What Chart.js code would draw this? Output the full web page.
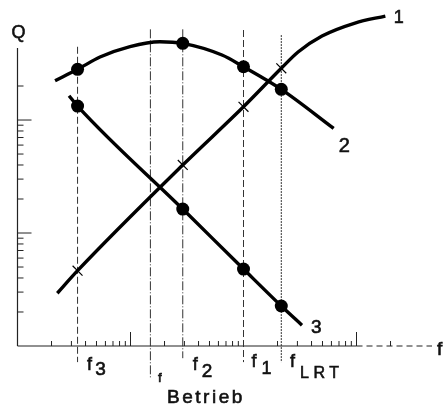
<!DOCTYPE html>
<html><head><meta charset="utf-8">
<script src="https://cdn.jsdelivr.net/npm/chart.js@4.4.1/dist/chart.umd.min.js"></script>
<style>html,body{margin:0;padding:0;background:#fff;} #wrap{width:447px;height:405px;position:relative;}</style>
</head><body><div id="wrap"><canvas id="c"></canvas></div>
<script>
// vertical reference frequencies
const fMain = ['f', 'f', 'f', 'f', 'f'];
const fSub = ['3', 'Betrieb', '2', '1', 'LRT'];
const fValues = [3.4, 15, 29, 100, 216];
const fTop = [445, 635, 635, 626, 565];
const fBottom = [0.72, 0.52, 0.78, 0.72, 0.72];

// curves (f, Q)
const curve1F = [2.25, 3.4, 29, 100, 216, 304, 495, 970, 1800];
const curve1Q = [2.93, 4.64, 40, 131, 287, 400, 554, 722, 832];
const curve2F = [2.15, 3.4, 5.37, 9.9, 18.2, 29, 64.5, 100, 216, 628];
const curve2Q = [223, 281, 361, 447, 493, 477, 376, 296, 187, 84.4];
const curve3F = [2.86, 3.4, 29, 100, 216, 329];
const curve3Q = [164, 133, 16.3, 4.8, 2.26, 1.53];

// markers at the reference frequencies
const markerF = [3.4, 29, 100, 216];
const marks1Q = [4.64, 40, 131, 287];
const marks2Q = [281, 477, 296, 187];
const marks3Q = [133, 16.3, 4.8, 2.26];

const curveLabels = ['1', '2', '3'];
const axisLabelX = 'f';
const axisLabelY = 'Q';

// log-paper tick marks
const xTicks = [2,3,4,5,6,7,8,9,10,20,30,40,50,60,70,80,90,100,200,300,400,500,600,700,800,900,1000,2000];
const xLongTicks = [10, 1000];
const yTicks = [2,3,4,5,6,7,8,9,10,20,30,40,50,60,70,80,90,100,200];
const yLongTicks = [10, 100];
const xMin = 1, xMax = 4657, yMin = 1, yMax = 434;

const pts = (xs, ys) => xs.map((x, i) => ({x: x, y: ys[i]}));
const FONT = '"Liberation Sans", Arial, sans-serif';

const dashes = [[7,3],[9,2,1,2],[9,2,1,2],[7,3],[2,1]];
const datasets = [];
[[curve1F, curve1Q], [curve2F, curve2Q], [curve3F, curve3Q]].forEach(c => {
  datasets.push({data: pts(c[0], c[1]), borderColor: '#000', borderWidth: 3.4, pointRadius: 0,
    cubicInterpolationMode: 'monotone', clip: false, order: 1, borderCapStyle: 'butt'});
});
datasets.push({data: pts(markerF, marks2Q), showLine: false, pointStyle: 'circle', pointRadius: 6.5,
  pointBackgroundColor: '#000', pointBorderWidth: 0, clip: false, order: 0});
datasets.push({data: pts(markerF, marks3Q), showLine: false, pointStyle: 'circle', pointRadius: 6.5,
  pointBackgroundColor: '#000', pointBorderWidth: 0, clip: false, order: 0});
datasets.push({data: pts(markerF, marks1Q), showLine: false, pointStyle: 'crossRot', pointRadius: 7,
  pointBorderColor: '#000', pointBorderWidth: 1.2, clip: false, order: 0});
fValues.forEach((f, i) => {
  datasets.push({data: [{x: f, y: fTop[i]}, {x: f, y: fBottom[i]}], borderColor: '#333', borderWidth: 1,
    borderDash: dashes[i], pointRadius: 0, clip: false, order: 5});
});

function heavyText(ctx, t, x, y) {
  ctx.fillText(t, x, y);
  ctx.strokeText(t, x, y);
}

const paperPlugin = {
  id: 'paper',
  beforeDatasetsDraw(chart) {
    const ctx = chart.ctx, xs = chart.scales.x, ys = chart.scales.y;
    const L = xs.getPixelForValue(xMin), B = ys.getPixelForValue(yMin);
    const T = ys.getPixelForValue(yMax), R = xs.getPixelForValue(xMax);
    ctx.save();
    ctx.strokeStyle = '#222';
    ctx.lineWidth = 1.2;
    ctx.beginPath(); ctx.moveTo(L, T); ctx.lineTo(L, B); ctx.stroke();
    const xSolidEnd = xs.getPixelForValue(1000);
    ctx.beginPath(); ctx.moveTo(L, B); ctx.lineTo(xSolidEnd, B); ctx.stroke();
    ctx.setLineDash([6, 4]);
    ctx.beginPath(); ctx.moveTo(xSolidEnd, B); ctx.lineTo(R, B); ctx.stroke();
    ctx.setLineDash([]);
    ctx.lineWidth = 1;
    xTicks.forEach(v => {
      const p = xs.getPixelForValue(v);
      const len = xLongTicks.includes(v) ? 14 : 5;
      ctx.beginPath(); ctx.moveTo(p, B); ctx.lineTo(p, B - len); ctx.stroke();
    });
    yTicks.forEach(v => {
      const p = ys.getPixelForValue(v);
      const len = yLongTicks.includes(v) ? 14 : 6;
      ctx.beginPath(); ctx.moveTo(L, p); ctx.lineTo(L + len, p); ctx.stroke();
    });
    ctx.restore();
  },
  afterDatasetsDraw(chart) {
    const ctx = chart.ctx, xs = chart.scales.x, ys = chart.scales.y;
    const L = xs.getPixelForValue(xMin), B = ys.getPixelForValue(yMin), R = xs.getPixelForValue(xMax);
    ctx.save();
    ctx.fillStyle = '#111';
    ctx.strokeStyle = '#111';
    ctx.lineWidth = 0.6;
    ctx.textBaseline = 'alphabetic';
    ctx.textAlign = 'left';
    ctx.font = '18px ' + FONT;
    heavyText(ctx, axisLabelY, L - 6, 38);
    ctx.font = '19px ' + FONT;
    heavyText(ctx, axisLabelX, R + 5, B + 9);
    const mainOff = [[9.4, 24, 18], [7.7, 36, 13], [10, 24, 18], [8, 21, 18], [8.7, 21, 18]];
    const subOff = [[17.7, 29, 19, 0], [16.7, 57, 19, 2.5], [19, 31, 19, 0], [18, 28, 18, 0], [18.7, 32, 16, 4.5]];
    fValues.forEach((f, i) => {
      const p = xs.getPixelForValue(f);
      ctx.letterSpacing = '0px';
      ctx.font = mainOff[i][2] + 'px ' + FONT;
      heavyText(ctx, fMain[i], p + mainOff[i][0], B + mainOff[i][1]);
      ctx.font = subOff[i][2] + 'px ' + FONT;
      ctx.letterSpacing = subOff[i][3] + 'px';
      heavyText(ctx, fSub[i], p + subOff[i][0], B + subOff[i][1]);
    });
    ctx.letterSpacing = '0px';
    const ends = [[curve1F, curve1Q, 8.4, 6.7, 18], [curve2F, curve2Q, 5, 23.4, 20], [curve3F, curve3Q, 9, 8, 19]];
    ends.forEach((e, i) => {
      const n = e[0].length - 1;
      const px = xs.getPixelForValue(e[0][n]), py = ys.getPixelForValue(e[1][n]);
      ctx.font = e[4] + 'px ' + FONT;
      heavyText(ctx, curveLabels[i], px + e[2], py + e[3]);
    });
    ctx.restore();
  }
};

new Chart(document.getElementById('c'), {
  type: 'line',
  data: {datasets: datasets},
  options: {
    animation: false, responsive: true, maintainAspectRatio: false,
    layout: {padding: {left: 17.5, right: 15, top: 48, bottom: 59}},
    plugins: {legend: {display: false}, tooltip: {enabled: false}},
    scales: {
      x: {type: 'logarithmic', min: xMin, max: xMax, display: false},
      y: {type: 'logarithmic', min: yMin, max: yMax, display: false}
    }
  },
  plugins: [paperPlugin]
});
</script></body></html>
